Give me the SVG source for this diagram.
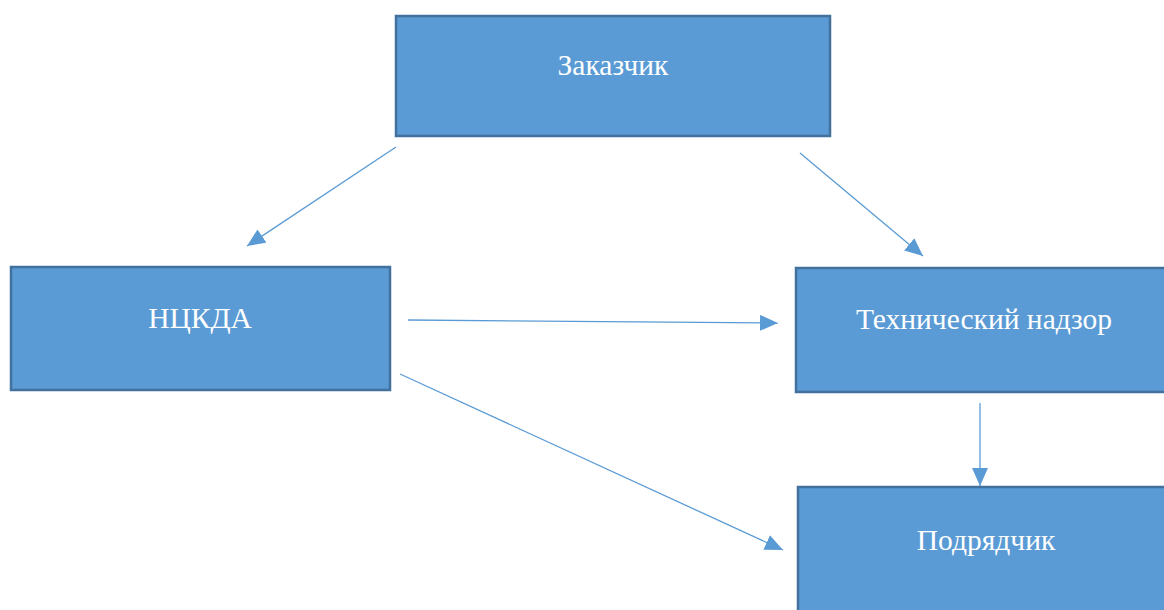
<svg xmlns="http://www.w3.org/2000/svg" width="1164" height="610" viewBox="0 0 1164 610">
<style>
.box{fill:#5B9BD5;stroke:#41719C;stroke-width:2.5}
.lbl{font-family:"Liberation Serif","Times New Roman",serif;font-size:29.5px;fill:#FFFFFF;text-anchor:middle}
.con{stroke:#5B9BD5;stroke-width:1.3;fill:none;marker-end:url(#ah)}
</style>
<defs>
<marker id="ah" markerUnits="userSpaceOnUse" markerWidth="19" markerHeight="16" refX="18" refY="8" orient="auto">
<path d="M0,0 L18,8 L0,16 Z" fill="#5B9BD5"/>
</marker>
</defs>
<rect width="1164" height="610" fill="#FFFFFF"/>
<g id="connectors">
<line class="con" x1="396" y1="147" x2="247" y2="246"/>
<line class="con" x1="800" y1="153" x2="923" y2="256"/>
<line class="con" x1="408" y1="320" x2="778" y2="323"/>
<line class="con" x1="400" y1="374" x2="783" y2="550"/>
<line class="con" x1="980" y1="403" x2="980" y2="486"/>
</g>
<g id="zakazchik">
<rect class="box" x="396" y="16" width="434" height="120"/>
<text class="lbl" x="613" y="75">Заказчик</text>
</g>
<g id="nckda">
<rect class="box" x="11" y="267" width="379" height="123"/>
<text class="lbl" x="200" y="328">НЦКДА</text>
</g>
<g id="tehnadzor">
<rect class="box" x="796" y="268" width="380" height="124"/>
<text class="lbl" x="984" y="329">Технический надзор</text>
</g>
<g id="podryadchik">
<rect class="box" x="798" y="487" width="380" height="130"/>
<text class="lbl" x="986" y="550">Подрядчик</text>
</g>
</svg>
